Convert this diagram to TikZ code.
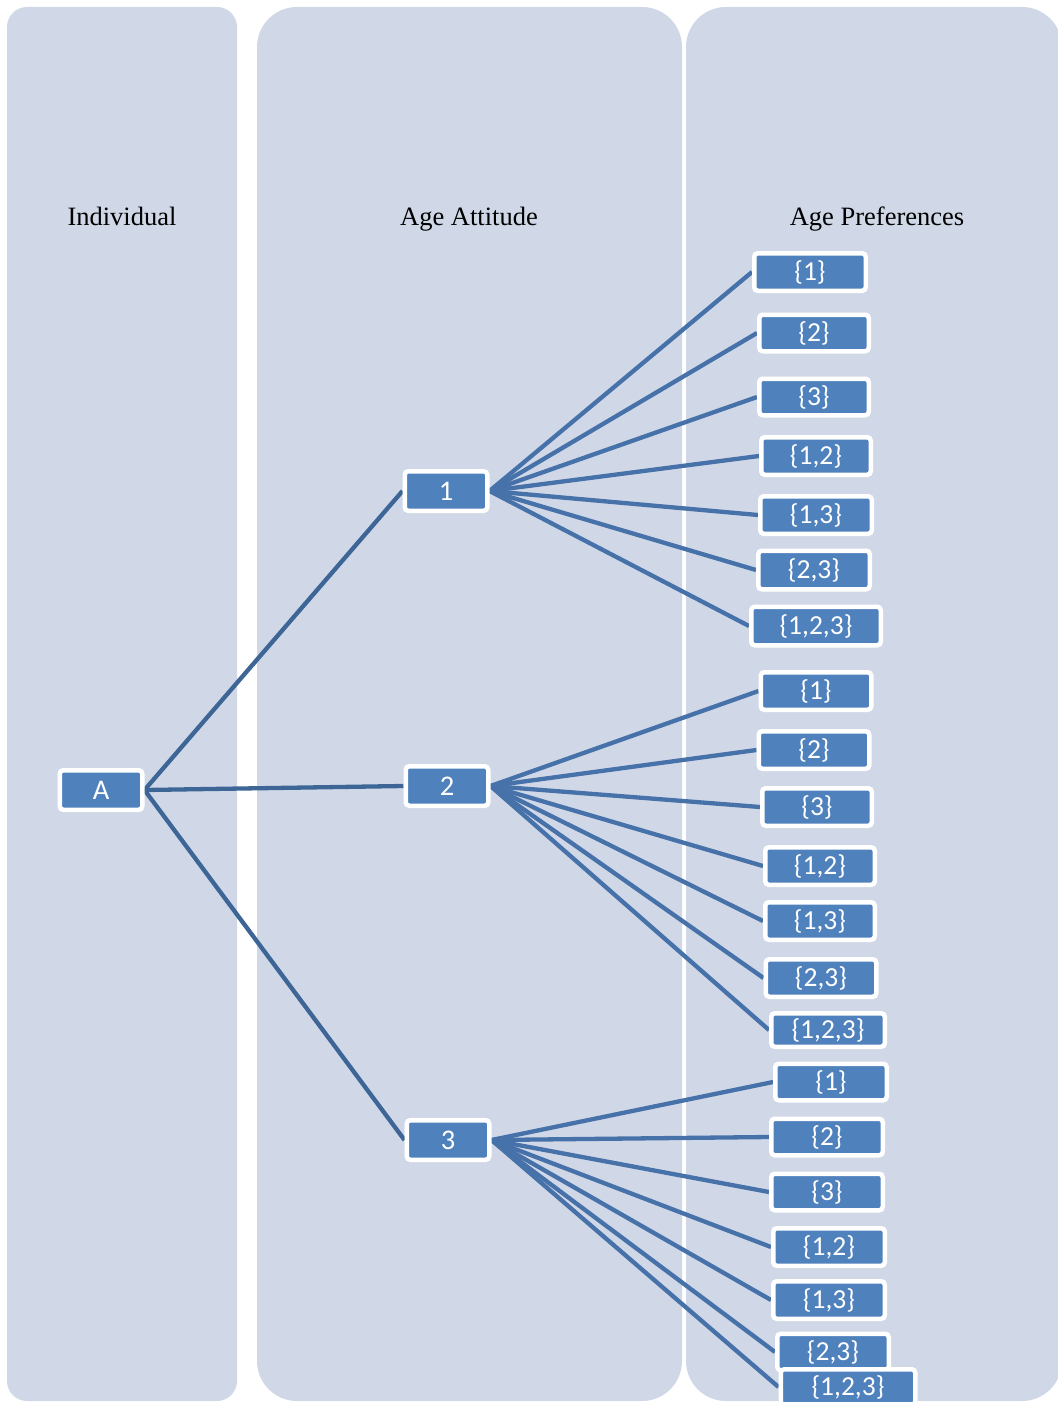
\documentclass[tikz,border=0pt]{standalone}
\usepackage{fontspec}
\setmainfont{Liberation Serif}
\newfontfamily\boxfont{Carlito}
\definecolor{panelfill}{HTML}{D0D8E8}
\definecolor{boxfill}{HTML}{4F81BD}
\definecolor{linkblue}{HTML}{4671A9}
\definecolor{rootlink}{HTML}{3D6596}
\pgfdeclarelayer{bg}
\pgfdeclarelayer{mid}
\pgfsetlayers{bg,mid,main}
\tikzset{
  panel/.style={fill=panelfill, draw=none},
  header/.style={font=\fontsize{26.5}{30}\selectfont, text=black, anchor=base, inner sep=0pt},
  box/.style={draw=white, line width=4.5pt, rounded corners=3.5pt, fill=boxfill, text=white,
    font=\boxfont\fontsize{28.5}{30}\selectfont, inner sep=0pt,
    minimum width=82.5pt, minimum height=39.5pt},
  leaf/.style={box, font=\boxfont\fontsize{27.5}{30}\selectfont,
    minimum width=110.5pt, minimum height=36.5pt},
  link/.style={draw=linkblue, line width=4.3pt},
  rootedge/.style={draw=rootlink, line width=4.3pt},
}
\begin{document}
\begin{tikzpicture}[x=1pt, y=-1pt]
\useasboundingbox (0,0) rectangle (1057,1402);
\clip (0,0) rectangle (1057,1402);

% column panels
\begin{pgfonlayer}{bg}
  \fill[white] (0,0) rectangle (1057,1402);
  \path[panel, rounded corners=20pt] (7,7) rectangle (237,1401);
  \path[panel, rounded corners=40pt] (257,7) rectangle (682,1401);
  \path[panel, rounded corners=40pt] (686,7) rectangle (1062,1401);
\end{pgfonlayer}

% column headings
\node[header] (hInd) at (122,225) {Individual};
\node[header] (hAtt) at (469,225) {Age Attitude};
\node[header] (hPref) at (877,225) {Age Preferences};

% individual and attitudes
\node[box] (A) at (101,790) {A};
\node[box] (t1) at (446,491) {1};
\node[box] (t2) at (447,786) {2};
\node[box] (t3) at (448,1140) {3};

% preferences under attitude 1
\node[leaf, minimum width=111.5pt, minimum height=37.5pt] (p11) at (810,272) {\{1\}};
\node[leaf, minimum width=109.5pt] (p12) at (814,333) {\{2\}};
\node[leaf, minimum width=109.5pt] (p13) at (814,397) {\{3\}};
\node[leaf, minimum width=109.5pt, minimum height=37.5pt] (p14) at (816,456) {\{1,2\}};
\node[leaf, minimum width=111.5pt, minimum height=37.5pt] (p15) at (816,515) {\{1,3\}};
\node[leaf, minimum width=111.5pt, minimum height=38.5pt] (p16) at (814,570) {\{2,3\}};
\node[leaf, minimum width=129.5pt, minimum height=38.5pt] (p17) at (816,626) {\{1,2,3\}};

% preferences under attitude 2
\node[leaf, minimum height=37.5pt] (p21) at (816,691) {\{1\}};
\node[leaf, minimum height=37.5pt] (p22) at (814,750) {\{2\}};
\node[leaf, minimum width=109.5pt, minimum height=37.5pt] (p23) at (817,807) {\{3\}};
\node[leaf, minimum width=109.5pt, minimum height=37.5pt] (p24) at (820,866) {\{1,2\}};
\node[leaf, minimum width=109.5pt, minimum height=37.5pt] (p25) at (820,921) {\{1,3\}};
\node[leaf, minimum height=37.5pt] (p26) at (821,978) {\{2,3\}};
\node[leaf, minimum width=113.5pt, minimum height=33.5pt] (p27) at (828,1030) {\{1,2,3\}};

% preferences under attitude 3
\node[leaf, minimum width=111.5pt] (p31) at (831,1082) {\{1\}};
\node[leaf, minimum width=111.5pt] (p32) at (827,1137) {\{2\}};
\node[leaf, minimum width=111.5pt] (p33) at (827,1192) {\{3\}};
\node[leaf, minimum width=111.5pt, minimum height=37.5pt] (p34) at (829,1247) {\{1,2\}};
\node[leaf, minimum width=111.5pt, minimum height=37.5pt] (p35) at (829,1300) {\{1,3\}};
\node[leaf, minimum width=111.5pt] (p36) at (833,1352) {\{2,3\}};
\node[leaf, minimum width=134.5pt, minimum height=35.5pt] (p37) at (848,1387) {\{1,2,3\}};

% connectors
\begin{pgfonlayer}{mid}
  \foreach \t in {1,2,3}
    \draw[rootedge] (A.east) -- (t\t.west);
  \foreach \t in {1,2,3}
    \foreach \p in {1,...,7}
      \draw[link] (t\t.east) -- (p\t\p.west);
\end{pgfonlayer}
\end{tikzpicture}
\end{document}
